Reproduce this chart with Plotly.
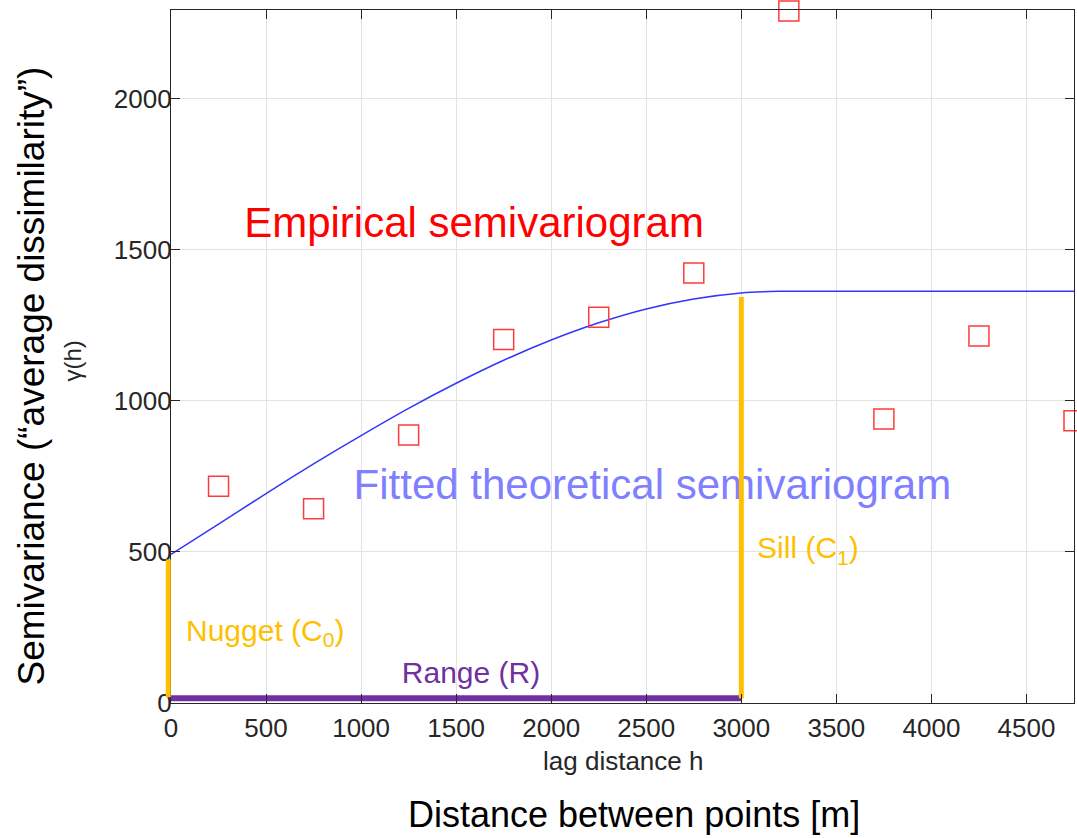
import plotly.graph_objects as go

# ---- data ----
lag_h = [250, 750, 1250, 1750, 2250, 2750, 3250, 3750, 4250, 4750]
gamma_emp = [717, 643, 887, 1203, 1276, 1423, 2290, 940, 1214, 934]

fit_h = [0, 250, 500, 750, 1000, 1250, 1500, 1750, 2000, 2250, 2500, 2750,
         3000, 3200, 3500, 4000, 4500, 4750]
fit_gamma = [492, 592, 693, 791, 885, 975, 1058, 1134, 1201, 1258, 1304, 1337,
             1357, 1362, 1362, 1362, 1362, 1362]

nugget_y = [19, 475]
sill_x = [3000, 3000]
sill_y = [16, 1343]
range_x = [0, 3000]
range_y = [16, 16]

x_ticks = [0, 500, 1000, 1500, 2000, 2500, 3000, 3500, 4000, 4500]
y_ticks = [0, 500, 1000, 1500, 2000]

FONT = "Liberation Sans, Arial, sans-serif"
ORANGE = "#FFC000"
PURPLE = "#7030A0"

fig = go.Figure()

fig.add_trace(go.Scatter(
    x=fit_h, y=fit_gamma, mode="lines",
    line=dict(color="#3535ff", width=1.5, shape="spline", smoothing=0.8),
    hoverinfo="skip", showlegend=False))

fig.add_trace(go.Scatter(
    x=lag_h, y=gamma_emp, mode="markers", cliponaxis=False,
    marker=dict(symbol="square-open", size=20, color="#ff3b3b",
                line=dict(width=1.5, color="#ff3b3b")),
    showlegend=False))

# in-plot labels as text traces
fig.add_trace(go.Scatter(
    x=[1594], y=[1578], mode="text", cliponaxis=False,
    text=["Empirical semivariogram"], textposition="middle center",
    textfont=dict(family=FONT, size=42, color="#ff0000"), showlegend=False))
fig.add_trace(go.Scatter(
    x=[2532], y=[709], mode="text", cliponaxis=False,
    text=["Fitted theoretical semivariogram"], textposition="middle center",
    textfont=dict(family=FONT, size=42, color="#7f7fff"), showlegend=False))
fig.add_trace(go.Scatter(
    x=[79], y=[231], mode="text", cliponaxis=False,
    text=["Nugget (C<sub>0</sub>)"], textposition="middle right",
    textfont=dict(family=FONT, size=30, color=ORANGE), showlegend=False))
fig.add_trace(go.Scatter(
    x=[3083], y=[503], mode="text", cliponaxis=False,
    text=["Sill (C<sub>1</sub>)"], textposition="middle right",
    textfont=dict(family=FONT, size=30, color=ORANGE), showlegend=False))
fig.add_trace(go.Scatter(
    x=[1578], y=[92], mode="text", cliponaxis=False,
    text=["Range (R)"], textposition="middle center",
    textfont=dict(family=FONT, size=30, color=PURPLE), showlegend=False))

fig.add_trace(go.Scatter(x=range_x, y=range_y, mode="lines",
                         line=dict(color=PURPLE, width=6), showlegend=False))
fig.add_trace(go.Scatter(x=sill_x, y=sill_y, mode="lines",
                         line=dict(color=ORANGE, width=5), showlegend=False))

# nugget bar sits on the left edge of the axis (x = 0), drawn unclipped
fig.add_shape(type="line", xref="x domain", yref="y", x0=-0.003, x1=-0.003,
              y0=nugget_y[0], y1=nugget_y[1], layer="above",
              line=dict(color=ORANGE, width=5))

axis_common = dict(
    showline=True, linecolor="#262626", linewidth=1.2, mirror="ticks",
    ticks="inside", ticklen=9, tickwidth=1.2, tickcolor="#262626",
    showgrid=True, gridcolor="#e3e3e3", gridwidth=1, zeroline=False,
    tickfont=dict(family=FONT, size=26, color="#262626"),
)

fig.update_xaxes(range=[0, 4750], tickvals=x_ticks, ticklabelstandoff=2,
                 **axis_common)
fig.update_yaxes(range=[0, 2293], tickvals=y_ticks, ticklabelstandoff=-7,
                 **axis_common)

fig.update_layout(
    width=1077, height=838,
    margin=dict(l=171, r=3, t=10, b=135),
    paper_bgcolor="white", plot_bgcolor="white",
    font=dict(family=FONT),
    annotations=[
        dict(text="lag distance h", xref="paper", yref="paper", x=0.5, y=0,
             xanchor="center", yanchor="middle", yshift=-58, showarrow=False,
             font=dict(family=FONT, size=26, color="#262626")),
        dict(text="Distance between points [m]", xref="paper", yref="paper",
             x=0.5, y=0, xanchor="center", yanchor="middle", xshift=11,
             yshift=-111, showarrow=False,
             font=dict(family=FONT, size=36, color="#000000")),
        dict(text="γ(h)", xref="paper", yref="paper", x=0, y=0.5,
             xanchor="center", yanchor="middle", xshift=-99, yshift=-5,
             textangle=-90, showarrow=False,
             font=dict(family=FONT, size=24, color="#262626")),
        dict(text="Semivariance (“average dissimilarity”)", xref="paper",
             yref="paper", x=0, y=0.5, xanchor="center", yanchor="middle",
             xshift=-140, yshift=-20, textangle=-90, showarrow=False,
             font=dict(family=FONT, size=37, color="#000000")),
    ],
)

# remove the default page margin so the figure fills the window exactly
fig.write_html(
    "out.html",
    config={"displayModeBar": False},
    post_script="document.body.style.margin='0';"
                "document.body.style.overflow='hidden';",
)
